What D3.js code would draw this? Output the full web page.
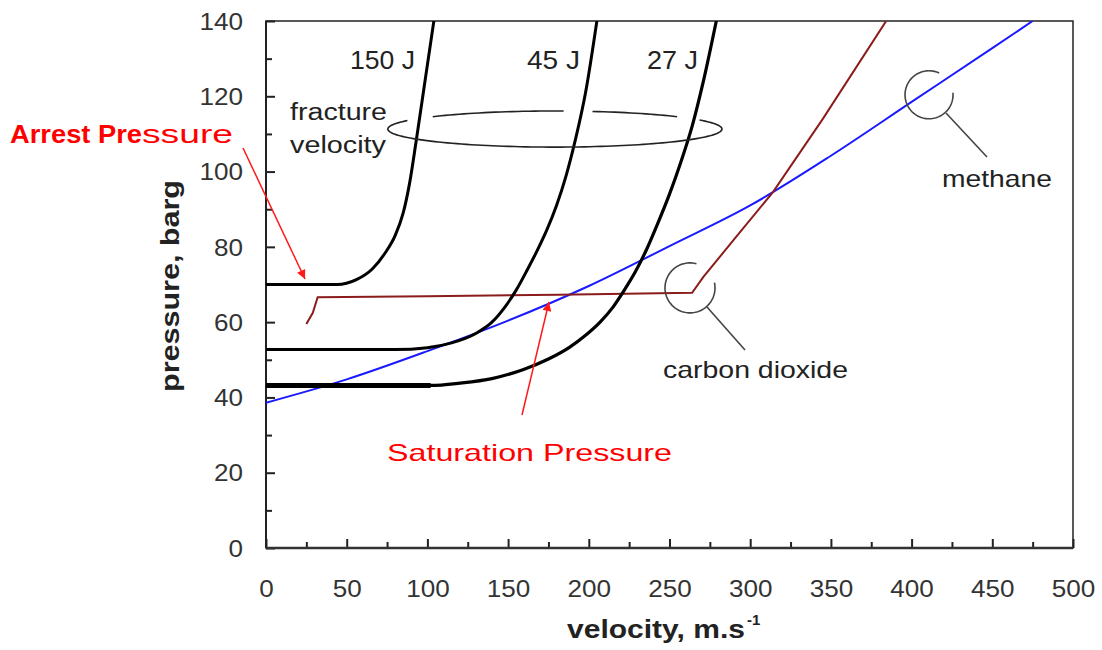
<!DOCTYPE html>
<html><head><meta charset="utf-8">
<script src="https://cdn.jsdelivr.net/npm/d3@7"></script>
<style>
body{margin:0;background:#fff}
svg{display:block}
text{font-family:"Liberation Sans",Arial,sans-serif}
</style>
</head><body>
<svg id="c" width="1102" height="650"></svg>
<script>
// ---- tick values ----
const yTicks = [0,20,40,60,80,100,120,140];
const yMinor = [10,30,50,70,90,110,130];
const xTicks = [0,50,100,150,200,250,300,350,400,450,500];
const xMinor = [25,75,125,175,225,275,325,375,425,475];

// ---- fracture velocity curves (velocity m/s, pressure barg) ----
const v150 = [0, 44, 56, 66, 74, 80, 85, 89, 93, 98.5, 104];
const p150 = [70, 70, 71.3, 74.2, 78.5, 83, 89, 97, 108, 124, 140];

const v45 = [0, 80, 100, 115, 130, 140, 148, 155, 162, 168, 174, 180, 186, 192, 198, 205];
const p45 = [52.7, 52.7, 53.2, 54.5, 57, 60, 64, 68.5, 74, 79, 84.5, 91, 99, 109, 121, 140];

const v27 = [0, 102, 120, 140, 160, 175, 188, 198, 207, 215, 222, 229, 236, 243, 250, 257, 264, 271, 279];
const p27 = [43.2, 43.2, 43.8, 45, 47.5, 50.2, 53.3, 56.5, 60, 64, 68.5, 73.5, 79.5, 86.5, 94, 102.5, 112, 124, 140];

// ---- decompression curves ----
const vCO2 = [25, 29, 32, 100, 181, 264, 271, 290, 314, 345, 385];
const pCO2 = [59.5, 62.5, 66.6, 66.9, 67.3, 67.8, 72, 82, 94.5, 114, 140.5];

const vCH4 = [0, 50, 100, 150, 200, 250, 300, 350, 400, 450, 475];
const pCH4 = [38.6, 44.8, 52.3, 60.4, 69.6, 80.2, 91, 104.2, 118.5, 132.8, 140];

const svg = d3.select("#c");
const x = d3.scaleLinear().domain([0,500]).range([266,1073]);
const y = d3.scaleLinear().domain([0,140]).range([548,21]);

const FONT = '"Liberation Sans", Arial, sans-serif';

// markers
const defs = svg.append("defs");
defs.append("marker").attr("id","ah").attr("viewBox","0 0 10 10")
  .attr("refX",10).attr("refY",5).attr("markerWidth",13).attr("markerHeight",9)
  .attr("markerUnits","userSpaceOnUse").attr("orient","auto")
  .append("path").attr("d","M0,0 L10,5 L0,10 z").attr("fill","#ff1a1a");
defs.append("clipPath").attr("id","clip").append("rect")
  .attr("x",x(0)).attr("y",y(140)).attr("width",x(500)-x(0)).attr("height",y(0)-y(140));

// frame
svg.append("rect").attr("x",x(0)).attr("y",y(140)).attr("width",x(500)-x(0)).attr("height",y(0)-y(140))
  .attr("fill","none").attr("stroke","#222").attr("stroke-width",1.5);

// axes
function styleAxis(g){
  g.attr("font-family",FONT).attr("font-size",23);
  g.select(".domain").remove();
  g.selectAll(".tick line").attr("stroke","#222").attr("stroke-width",2);
}
const gy = svg.append("g").attr("transform",`translate(${x(0)},0)`)
  .call(d3.axisLeft(y).tickValues(yTicks).tickSizeInner(-9).tickSizeOuter(0).tickFormat(d=>String(d)));
styleAxis(gy);
gy.selectAll(".tick text").attr("x",-23).attr("dy","0.36em").attr("fill","#333")
  .attr("textLength",d=>String(d).length*14.5).attr("lengthAdjust","spacingAndGlyphs");
const gym = svg.append("g").attr("transform",`translate(${x(0)},0)`)
  .call(d3.axisLeft(y).tickValues(yMinor).tickSizeInner(-6).tickSizeOuter(0).tickFormat(""));
styleAxis(gym);

const gx = svg.append("g").attr("transform",`translate(0,${y(0)})`)
  .call(d3.axisBottom(x).tickValues(xTicks).tickSizeInner(-9).tickSizeOuter(0).tickFormat(d=>String(d)));
styleAxis(gx);
gx.selectAll(".tick text").attr("y",49).attr("dy",null).attr("fill","#333")
  .attr("textLength",d=>String(d).length*14.5).attr("lengthAdjust","spacingAndGlyphs");
const gxm = svg.append("g").attr("transform",`translate(0,${y(0)})`)
  .call(d3.axisBottom(x).tickValues(xMinor).tickSizeInner(-6).tickSizeOuter(0).tickFormat(""));
styleAxis(gxm);

// axis lines
svg.append("line").attr("x1",x(0)).attr("x2",x(0)).attr("y1",y(0)).attr("y2",y(140)).attr("stroke","#222").attr("stroke-width",2);
svg.append("line").attr("x1",x(0)).attr("x2",x(500)).attr("y1",y(0)).attr("y2",y(0)).attr("stroke","#333").attr("stroke-width",2.5);

// axis titles
svg.append("text").attr("transform","translate(179,286) rotate(-90)").attr("text-anchor","middle")
  .attr("font-weight","bold").attr("font-size",25).attr("fill","#222")
  .attr("textLength",212).attr("lengthAdjust","spacingAndGlyphs").text("pressure, barg");
const xt = svg.append("text").attr("x",567).attr("y",638).attr("font-weight","bold").attr("font-size",26).attr("fill","#222");
xt.append("tspan").attr("textLength",178).attr("lengthAdjust","spacingAndGlyphs").text("velocity, m.s");
xt.append("tspan").attr("font-size",15).attr("dy",-13).attr("dx",2).text("-1");

// curves
const plot = svg.append("g").attr("clip-path","url(#clip)");
const smooth = d3.line().x(d=>x(d[0])).y(d=>y(d[1])).curve(d3.curveMonotoneX);
const straight = d3.line().x(d=>x(d[0])).y(d=>y(d[1]));

plot.append("path").attr("d",smooth(d3.zip(vCH4,pCH4))).attr("fill","none").attr("stroke","#1a1aff").attr("stroke-width",2);
plot.append("path").attr("d",straight(d3.zip(vCO2,pCO2))).attr("fill","none").attr("stroke","#8b1c1c").attr("stroke-width",2);
[[v150,p150,3],[v45,p45,3],[v27,p27,3.2]].forEach(([v,p,w])=>{
  plot.append("path").attr("d",smooth(d3.zip(v,p))).attr("fill","none").attr("stroke","#000")
    .attr("stroke-width",w).attr("stroke-linejoin","round");
});
// heavier flat shelf of the 27 J curve
plot.append("path").attr("d",straight(d3.zip(v27.slice(0,2),p27.slice(0,2)))).attr("stroke","#000").attr("stroke-width",5);

// curve labels
function label(t,xx,yy,fs,len,opts={}){
  return svg.append("text").attr("x",xx).attr("y",yy).attr("font-size",fs)
    .attr("fill",opts.fill||"#222").attr("font-weight",opts.weight||"normal")
    .attr("textLength",len).attr("lengthAdjust","spacingAndGlyphs").text(t);
}
label("150 J",350,69,25,65);
label("45 J",527,69,25,53);
label("27 J",647,69,25,51);
label("fracture",290,120,23,97);
label("velocity",290,153,23,96);
label("methane",942,187,24,110);
label("carbon dioxide",663,378,24,185);
label("Arrest Pre",10,143,25,132,{fill:"#ff0000",weight:"bold"});
label("ssure",142,143,25,91,{fill:"#ff0000"});
label("Saturation Pressure",387,461,24,285,{fill:"#ff0000"});

// fracture velocity ellipse (open segments)
const ell = {cx:179, cy:111.3, rx:103.5, ry:4.8};
function ellArc(a0,a1){
  const pts=[];
  for(let a=a0;a<=a1+1e-9;a+=2){
    const t=a*Math.PI/180;
    pts.push([ell.cx+ell.rx*Math.cos(t), ell.cy-ell.ry*Math.sin(t)]);
  }
  return straight(pts);
}
[[-137,-86],[-77,-41.5],[-30,208]].forEach(([a0,a1])=>{
  svg.append("path").attr("d",ellArc(a0,a1)).attr("fill","none").attr("stroke","#222").attr("stroke-width",1.6);
});

// callout circles
function openCircle(cv,cp,r,g0,g1){
  const cx=x(cv), cy=y(cp);
  const pts=[];
  for(let a=g1;a<=g0+360;a+=3){
    const t=a*Math.PI/180;
    pts.push([cx+r*Math.cos(t), cy+r*Math.sin(t)]);
  }
  svg.append("path").attr("d",d3.line()(pts)).attr("fill","none").attr("stroke","#444").attr("stroke-width",1.6);
}
openCircle(262.7,69.1,25,-74,-12);
openCircle(410.8,120.4,24,-64,-5);
svg.append("line").attr("x1",707).attr("y1",307).attr("x2",745).attr("y2",350).attr("stroke","#444").attr("stroke-width",1.6);
svg.append("line").attr("x1",946).attr("y1",113).attr("x2",987).attr("y2",157).attr("stroke","#444").attr("stroke-width",1.6);

// red arrows
svg.append("line").attr("x1",243).attr("y1",148).attr("x2",305).attr("y2",279)
  .attr("stroke","#ff1a1a").attr("stroke-width",1.5).attr("marker-end","url(#ah)");
svg.append("line").attr("x1",522).attr("y1",415).attr("x2",549).attr("y2",302)
  .attr("stroke","#ff1a1a").attr("stroke-width",1.5).attr("marker-end","url(#ah)");
</script>
</body></html>
